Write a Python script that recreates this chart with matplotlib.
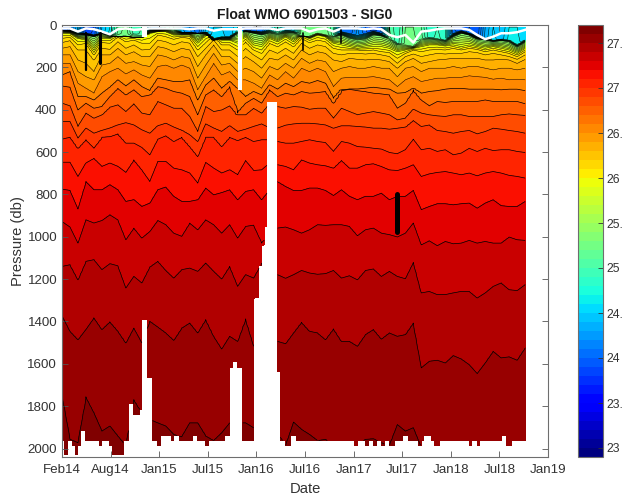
import numpy as np
import matplotlib
matplotlib.use("Agg")
import matplotlib.pyplot as plt

plt.rcParams['font.family'] = ['Liberation Sans', 'DejaVu Sans']

# profile numbering: one profile every 10 days, isopycnal depths read every third profile
PROFILE_DAYS = 10
NODE_STEP = 3
N_PROFILES = 175

surf_sigma = [23.9,24.0,24.4,23.8,23.9,24.4,24.6,25.1,25.25,24.9,25.0,24.3,24.2,24.8,25.0,24.3,24.2,24.0,24.4,24.5,24.5,24.4,24.6,23.9,24.0,24.0,24.4,24.9,24.3,24.4,25.25,25.25,25.2,25.25,
              25.0,24.0,24.0,24.2,24.0,23.8,24.0,25.1,24.9,25.2,25.2,25.1,24.8,24.9,24.8,24.0,23.9,24.0,23.9,24.3,24.5,24.4,24.6,24.6,24.5]
mld = [16,16,31,16,20,31,44,20,16,23,20,16,16,16,16,16,20,16,16,27,20,20,20,16,16,16,16,23,16,16,16,31,20,16,
       31,16,16,16,20,16,20,47,58,47,83,31,27,20,16,16,16,23,47,67,55,39,39,34,23]

z_mix = [27,23,36,39,47,39,42,39,42,39,47,20,20,17,20,34,34,39,34,63,55,55,31,27,28,31,23,36,23,27,45,47,31,39,
         52,31,39,47,39,27,39,63,86,86,94,63,58,63,71,39,27,39,55,63,71,67,71,94,71]
z_253 = [27,31,47,47,55,39,52,55,52,58,58,31,27,23,31,39,39,42,39,71,63,63,39,31,39,47,39,47,39,39,52,55,39,47,
         58,47,63,71,67,47,52,67,94,94,102,71,67,71,79,55,39,47,67,71,79,74,79,102,79]
z_259 = [39,39,63,71,118,63,63,39,55,47,55,39,31,31,47,47,47,86,47,31,71,71,86,55,94,102,63,79,55,79,47,63,47,55,
         86,94,102,110,105,102,102,110,126,118,110,102,94,94,99,94,102,94,102,110,102,110,118,134,110]
z_261 = [63,58,94,86,141,83,86,55,79,71,86,86,47,55,67,58,63,118,83,47,94,94,118,79,118,134,86,102,79,102,63,83,71,79,
         110,118,118,118,121,118,126,130,157,134,118,126,118,115,118,110,118,110,115,126,118,126,134,149,126]
z_262 = [83,74,118,118,165,110,115,79,110,94,118,115,71,79,94,79,86,149,110,71,118,118,149,110,141,165,118,134,110,134,86,110,94,102,
         134,141,134,134,137,134,141,149,181,149,137,149,141,134,137,134,134,126,130,141,134,141,149,162,141]
z_263 = [110,102,165,181,220,141,141,110,141,126,149,149,102,110,126,110,118,196,141,94,149,149,181,149,173,204,157,165,141,165,118,141,126,134,
         165,173,157,162,165,162,165,173,204,173,157,181,173,165,162,157,157,157,157,165,165,162,165,181,162]
z_264 = [141,141,220,244,259,189,181,149,181,173,189,196,141,149,165,149,157,251,189,134,189,181,220,204,220,251,196,212,181,204,157,181,165,173,
         220,204,196,204,204,196,204,204,244,204,196,220,204,204,204,196,204,196,196,204,212,204,204,212,204]
z_265 = [181,181,275,299,322,244,220,204,231,212,236,251,196,189,204,189,204,306,244,181,236,220,259,259,275,299,236,259,220,251,204,220,204,220,
         291,251,247,247,247,244,251,259,291,259,244,267,259,251,251,247,247,240,244,247,256,251,259,256,259]
z_266 = [236,220,338,338,354,322,294,259,288,259,291,310,251,259,267,267,259,354,283,251,299,267,299,338,314,330,283,303,275,291,267,275,262,275,
         346,306,303,303,299,294,299,303,322,319,300,322,314,310,303,299,299,303,303,303,303,306,303,303,310]
z_267 = [288,294,401,369,393,385,338,299,330,306,338,330,291,299,314,322,338,424,330,306,338,291,416,369,346,369,306,338,322,330,314,322,319,314,
         369,310,303,310,314,322,325,330,393,369,306,354,382,361,366,361,361,361,361,354,361,361,361,361,372]
z_268 = [369,382,479,416,440,424,388,377,409,372,416,424,361,377,393,393,432,503,385,409,401,382,424,424,393,416,369,385,393,385,388,398,393,393,
         440,393,409,424,416,409,416,424,448,440,398,416,424,429,432,424,424,432,432,432,432,424,420,424,427]
z_269 = [456,456,534,487,511,498,487,472,461,472,495,511,476,464,482,498,519,550,467,487,503,476,503,492,479,467,487,487,473,467,464,464,467,472,
         487,476,476,479,482,487,487,492,487,482,451,479,472,498,503,511,503,498,514,503,487,492,498,503,511]
z_270 = [539,530,582,542,582,530,527,514,558,558,578,613,539,523,550,530,574,621,530,530,574,530,545,530,550,542,542,550,558,558,550,542,550,555,
         597,550,558,574,577,582,586,602,608,589,539,589,582,597,589,613,605,582,597,582,593,589,589,597,602]
z_271 = [648,648,715,652,629,668,652,668,696,637,684,739,644,644,676,684,699,747,649,676,699,684,707,640,687,684,652,660,668,684,637,652,660,665,
         676,640,676,676,660,655,668,684,687,676,660,715,703,696,692,699,707,699,712,699,692,699,710,715,723]
z_272 = [775,781,869,739,778,778,754,778,833,825,857,841,778,765,809,833,833,825,770,802,791,778,825,786,778,825,778,739,762,781,781,770,770,781,
         805,778,809,825,809,809,794,825,809,809,781,872,857,844,844,849,844,841,865,841,825,853,857,857,833]
z_273 = [928,954,1030,920,935,923,896,920,1014,959,1006,975,923,943,983,998,935,967,920,943,983,943,1006,951,945,1030,990,959,954,967,983,967,943,946,
         943,943,951,995,967,959,983,990,1001,983,935,1038,1019,1042,1022,1033,1030,1017,1030,1022,1030,1030,1001,1014,1017]
z_274 = [1140,1132,1203,1116,1108,1155,1127,1137,1242,1187,1218,1143,1116,1159,1195,1155,1148,1163,1124,1163,1199,1140,1234,1179,1195,1124,1155,1179,1196,1179,1159,1171,1177,1174,
         1159,1195,1184,1203,1159,1152,1187,1163,1187,1198,1121,1265,1258,1273,1273,1265,1258,1258,1289,1265,1234,1218,1250,1254,1226]
z_275 = [1372,1446,1486,1438,1383,1438,1402,1446,1501,1431,1501,1399,1426,1454,1489,1431,1407,1454,1391,1470,1530,1470,1494,1388,1517,1509,1501,1494,1505,1454,1404,1446,1454,1486,
         1435,1494,1494,1517,1462,1438,1483,1454,1470,1462,1407,1619,1588,1583,1596,1561,1577,1604,1646,1596,1541,1572,1567,1583,1525]
z_276 = [1740,1957,1973,1756,1831,1918,1894,1942,1989,1769,1831,1863,1879,1894,1934,1945,1879,1879,1942,1963,1926,1879,1879,1879,1902,1902,1902,1926,1989,1875,1910,1934,1963,1957,
         1989,1989,1989,1989,1957,1954,1973,1989,1887,1918,1902,1997,2010,2010,2010,2010,2010,2010,2010,2010,2010,2010,2010,2010,2010]

iso_levels = [25.3,25.9,26.1,26.2,26.3,26.4,26.5,26.6,26.7,26.8,26.9,27.0,27.1,27.2,27.3,27.4,27.5,27.6]
iso_depths = [z_253,z_259,z_261,z_262,z_263,z_264,z_265,z_266,z_267,z_268,z_269,z_270,z_271,z_272,z_273,z_274,z_275,z_276]

# deepest sample of each profile, as runs of consecutive profiles
bottom_counts = [1,2,1,1,2,1,1,5,2,2,1,5,2,1,2,1,1,1,1,1,2,2,3,2,1,6,1,3,2,6,1,1,1,1,1,1,5,2,1,1,1,3,1,2,3,1,22,2,2,2,1,2,1,2,1,3,3,1,4,2,1,2,1,3,10,2,1,2,8,1,3,5]
bottom_depths = [1963,2028,1963,1984,2028,1984,1913,1963,1984,1963,1984,2028,1963,1789,1839,1866,1814,1388,1963,1663,1963,1984,1938,1963,1938,1963,1938,1963,1984,1963,1938,1963,1616,1589,1963,1616,1963,1289,1137,1038,953,360,1637,1963,1984,1938,1963,1984,1963,1984,1963,1984,1963,1984,1963,1984,1963,1938,1963,1984,1963,1938,1963,1984,1963,1984,1963,1984,1963,1938,1984,1963]

# profiles missing their upper part: profile number, first valid pressure
gap_profiles = [31, 67]
gap_tops = [60, 310]

# black smears from dense contours in bad profiles: day, top, bottom, width
smear_days = [90, 143, 906, 1048, 1257]
smear_tops = [39, 39, 39, 23, 800]
smear_bottoms = [212, 181, 118, 86, 978]
smear_widths = [1.6, 2.2, 1.2, 1.2, 3.6]

xtick_labels = ['Feb14','Aug14','Jan15','Jul15','Jan16','Jul16','Jan17','Jul17','Jan18','Jul18','Jan19']
ytick_values = [0,200,400,600,800,1000,1200,1400,1600,1800,2000]
cbar_ticks = [23,23.5,24,24.5,25,25.5,26,26.5,27,27.5]
cbar_labels = ['23','23.','24','24.','25','25.','26','26.','27','27.']
SIGMA_MIN, SIGMA_MAX, SIGMA_STEP = 22.9, 27.7, 0.1

for name, arr in zip(iso_levels, iso_depths):
    assert len(arr) == 59, (name, len(arr))
assert len(surf_sigma) == 59 and len(mld) == 59 and len(z_mix) == 59
assert len(bottom_counts) == len(bottom_depths), (len(bottom_counts), len(bottom_depths))

profiles = np.arange(N_PROFILES)
days = profiles * PROFILE_DAYS
node_profiles = np.arange(59) * NODE_STEP
bottoms = np.repeat(bottom_depths, bottom_counts)
assert bottoms.size == N_PROFILES, bottoms.size

pressure = np.arange(10.0, 2040.1, 2.0)
stack = np.array([np.interp(profiles, node_profiles, a) for a in iso_depths], float)
surf = np.interp(profiles, node_profiles, surf_sigma)
mix = np.interp(profiles, node_profiles, z_mix)

Z = np.full((pressure.size, N_PROFILES), np.nan)
for n in profiles:
    d = np.concatenate([[10.0, mix[n]], stack[:, n], [2100.0]])
    d = np.maximum.accumulate(d) + np.arange(d.size) * 1e-3
    s = np.concatenate([[surf[n], surf[n] + 0.04], iso_levels, [27.65]])
    Z[:, n] = np.interp(pressure, d, s)

mask = pressure[:, None] > bottoms[None, :]
for n, top in zip(gap_profiles, gap_tops):
    mask[pressure < top, n] = True
Zm = np.ma.array(Z, mask=mask)

levels = np.round(np.arange(SIGMA_MIN, SIGMA_MAX + 0.01, SIGMA_STEP), 1)
cmap = plt.get_cmap('jet', levels.size - 1)

W, H = 624, 496
fig = plt.figure(figsize=(W / 100, H / 100), dpi=100)
ax = fig.add_axes([62 / W, (H - 457) / H, 486 / W, 432 / H])
cf = ax.contourf(days, pressure, Zm, levels=levels, cmap=cmap, vmin=SIGMA_MIN, vmax=SIGMA_MAX)
line_levels = levels[1:-1]
ax.contour(days, pressure, Zm, levels=line_levels[line_levels < 26.55], colors='k', linewidths=0.35)
ax.contour(days, pressure, Zm, levels=line_levels[line_levels >= 26.55], colors='k', linewidths=0.5)
ax.plot(node_profiles * PROFILE_DAYS, mld, color='white', lw=1.8, zorder=4)
for d, t, b, w in zip(smear_days, smear_tops, smear_bottoms, smear_widths):
    ax.vlines(d, t, b, colors='k', lw=w, zorder=5, capstyle='round')

ax.set_xlim(0, 1826)
ax.set_ylim(2040, 0)
ax.set_xticks(np.linspace(0, 1826, len(xtick_labels)))
ax.set_xticklabels(xtick_labels)
ax.set_yticks(ytick_values)
ax.tick_params(direction='in', length=4.5, width=0.6, color='#555555', labelcolor='#333333',
               labelsize=9.6, top=True, right=True)
ax.tick_params(axis='x', pad=5)
ax.tick_params(axis='y', pad=3.5)
for s in ax.spines.values():
    s.set_color('#6e6e6e')
    s.set_linewidth(0.8)
ax.set_xlabel('Date', fontsize=10.6, color='#333333', labelpad=4.5)
ax.set_ylabel('Pressure (db)', fontsize=10.6, color='#333333', labelpad=1.5)
ax.set_title('Float WMO 6901503 - SIG0', fontsize=10.1, fontweight='bold', color='#1a1a1a', pad=4)

cax = fig.add_axes([578 / W, (H - 457) / H, 25 / W, 432 / H])
cb = fig.colorbar(cf, cax=cax, ticks=cbar_ticks)
cb.ax.set_yticklabels(cbar_labels)
cb.ax.tick_params(direction='in', length=3.5, width=0.6, color='#333333', labelcolor='#333333', labelsize=8.8, pad=2.4)
cb.outline.set_edgecolor('#6e6e6e')
cb.outline.set_linewidth(0.8)

fig.savefig('out.png', dpi=100)
